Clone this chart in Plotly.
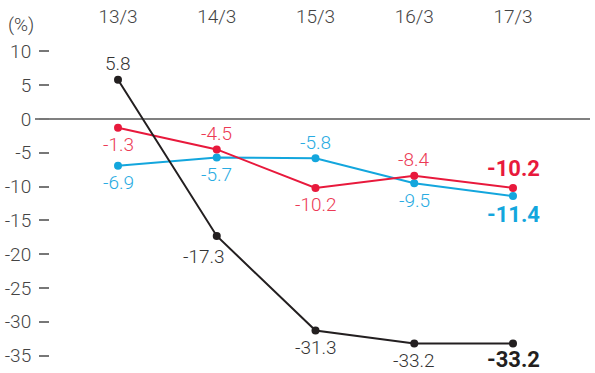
import plotly.graph_objects as go

categories = ["13/3", "14/3", "15/3", "16/3", "17/3"]
black_vals = [5.8, -17.3, -31.3, -33.2, -33.2]
red_vals = [-1.3, -4.5, -10.2, -8.4, -10.2]
blue_vals = [-6.9, -5.7, -5.8, -9.5, -11.4]
y_ticks = [10, 5, 0, -5, -10, -15, -20, -25, -30, -35]

# label placement (above/below) per point
black_pos = ["a", "b", "b", "b", "b"]
red_pos = ["b", "a", "b", "a", "a"]
blue_pos = ["b", "b", "a", "b", "b"]

BLACK = "#231f20"
RED = "#e8193c"
BLUE = "#13a6dd"
FONT = "Roboto"
LIGHT = 300
FS = 19

xs = list(range(len(categories)))
fig = go.Figure()
annotations = []

for vals, pos, col, tcol in [
    (blue_vals, blue_pos, BLUE, "#29abe2"),
    (red_vals, red_pos, RED, "#ec3a55"),
    (black_vals, black_pos, BLACK, "#333333"),
]:
    fig.add_trace(go.Scatter(
        x=xs, y=vals, mode="lines+markers",
        line=dict(color=col, width=2),
        marker=dict(color=col, size=8),
        hoverinfo="skip", showlegend=False,
    ))
    for i, (v, p) in enumerate(zip(vals, pos)):
        last = i == len(vals) - 1
        ys = (19 if last else 16) if p == "a" else (-18 if last else -17)
        xsft = 0
        if vals is black_vals and i == 1:
            xsft, ys = -13, -21
        if vals is black_vals and last:
            ys = -16
        annotations.append(dict(
            x=i, y=v, xref="x", yref="y", text=f"{v:.1f}",
            showarrow=False, xshift=xsft, yshift=ys,
            xanchor="center", yanchor="middle",
            font=dict(family=FONT, size=22 if last else FS, color=col if last else tcol,
                      weight="bold" if last else LIGHT),
        ))

annotations.append(dict(
    x=(21 - 50) / 540, y=(365 - 22) / 325, xref="paper", yref="paper",
    xanchor="center", yanchor="middle",
    text="(%)", showarrow=False,
    font=dict(family=FONT, size=FS, color="#444444", weight=LIGHT),
))

fig.update_layout(
    width=595, height=373,
    margin=dict(l=50, r=5, t=40, b=8),
    paper_bgcolor="white", plot_bgcolor="white",
    font=dict(family=FONT, size=FS, color="#444444"),
    annotations=annotations,
    shapes=[dict(type="line", xref="paper", yref="y", x0=(35 - 50) / 540, x1=1,
                 y0=0, y1=0, line=dict(color="#808080", width=2), layer="below")],
    xaxis=dict(
        range=[-0.6886, 4.7798], side="top", tickmode="array",
        tickvals=xs, ticktext=categories, showgrid=False, zeroline=False,
        showline=False, ticks="outside", ticklen=10, tickcolor="rgba(0,0,0,0)",
        tickfont=dict(family=FONT, size=FS, color="#444444", weight=LIGHT),
    ),
    yaxis=dict(
        range=[-36.40, 11.40], tickmode="array", tickvals=y_ticks,
        ticktext=[str(t) for t in y_ticks], showgrid=False, zeroline=False,
        showline=False, ticks="outside", ticklen=10, tickwidth=1.5,
        tickcolor="#777777", ticklabelstandoff=4,
        tickfont=dict(family=FONT, size=FS, color="#444444", weight=LIGHT),
    ),
)

fig.write_html("out.html")
